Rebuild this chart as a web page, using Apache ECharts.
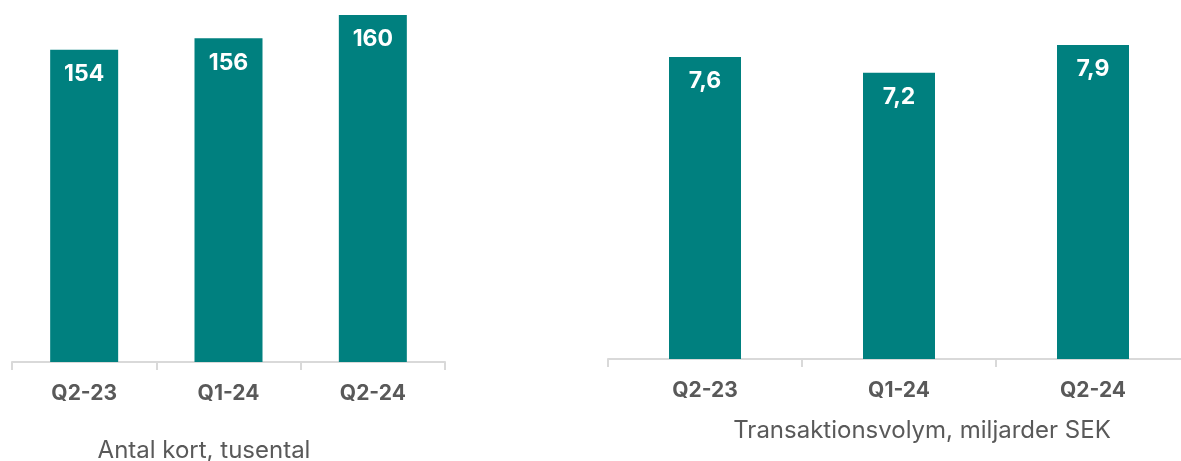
<!DOCTYPE html>
<html>
<head>
<meta charset="utf-8">
<script src="https://cdn.jsdelivr.net/npm/echarts@6/dist/echarts.min.js"></script>
<style>
html,body{margin:0;padding:0;background:#fff;}
#chart{width:1181px;height:461px;}
</style>
</head>
<body>
<div id="chart"></div>
<script>
const categories = ['Q2-23', 'Q1-24', 'Q2-24'];
const cardsValues = [154, 156, 160];
const volumeValues = [7.6, 7.2, 7.9];
const leftTitle = 'Antal kort, tusental';
const rightTitle = 'Transaktionsvolym, miljarder SEK';

const FONT = 'Inter, "Open Sans", sans-serif';
const TEAL = '#00807f';
const GREY_TEXT = '#595959';
const AXIS_GREY = '#d9d9d9';

function xAxisCfg(gridIndex, margin) {
  return {
    type: 'category', gridIndex: gridIndex, data: categories,
    axisLine: {show: true, lineStyle: {color: AXIS_GREY, width: 2}},
    axisTick: {show: true, length: 8, alignWithLabel: false, lineStyle: {color: AXIS_GREY, width: 2}},
    axisLabel: {color: GREY_TEXT, fontFamily: FONT, fontWeight: 'bold', fontSize: 21, margin: margin}
  };
}
function yAxisCfg(gridIndex, min, max) {
  return {
    type: 'value', gridIndex: gridIndex, min: min, max: max,
    show: false, splitLine: {show: false}
  };
}
const labelCfg = (fmt) => ({
  show: true, position: 'insideTop', distance: 13,
  color: '#ffffff', fontFamily: FONT, fontWeight: 'bold', fontSize: 23,
  formatter: fmt
});

const chart = echarts.init(document.getElementById('chart'), null, {renderer: 'canvas'});
chart.setOption({
  animation: false,
  backgroundColor: '#ffffff',
  grid: [
    {left: 12, top: 15, width: 433, height: 347, outerBoundsMode: 'none', containLabel: false},
    {left: 608, top: 41, width: 582, height: 318, outerBoundsMode: 'none', containLabel: false}
  ],
  xAxis: [xAxisCfg(0, 21), xAxisCfg(1, 21)],
  yAxis: [yAxisCfg(0, 100, 160), yAxisCfg(1, 0, 8)],
  series: [
    {
      type: 'bar', xAxisIndex: 0, yAxisIndex: 0, data: cardsValues,
      barWidth: 68, itemStyle: {color: TEAL},
      label: labelCfg(p => String(p.value))
    },
    {
      type: 'bar', xAxisIndex: 1, yAxisIndex: 1, data: volumeValues,
      barWidth: 72, itemStyle: {color: TEAL},
      label: labelCfg(p => p.value.toFixed(1).replace('.', ','))
    }
  ],
  graphic: [
    {type: 'text', x: 204, y: 451, style: {text: leftTitle, fill: GREY_TEXT, font: '24px ' + FONT, textAlign: 'center', textVerticalAlign: 'middle'}},
    {type: 'text', x: 922, y: 431, style: {text: rightTitle, fill: GREY_TEXT, font: '24px ' + FONT, textAlign: 'center', textVerticalAlign: 'middle'}}
  ]
});
</script>
</body>
</html>
